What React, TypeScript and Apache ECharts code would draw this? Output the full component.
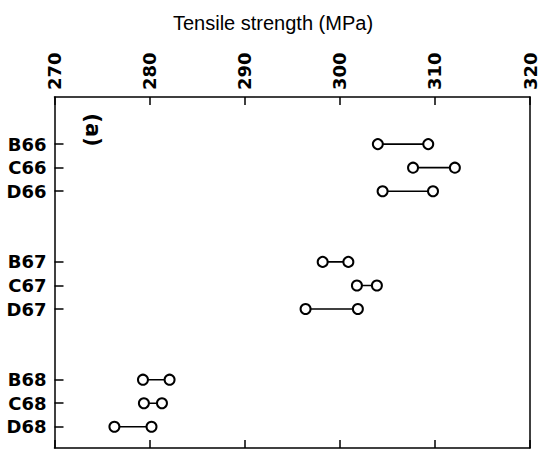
import React, { useEffect, useRef } from "react";
import * as echarts from "echarts";

// Specimen rows and their slot positions on the vertical axis (gaps between groups)
const specimens = ["B66", "C66", "D66", "B67", "C67", "D67", "B68", "C68", "D68"];
const slots = [0, 1, 2, 5, 6, 7, 10, 11, 12];
// Lower and upper tensile strength readings (MPa)
const lowValues = [304.0, 307.7, 304.5, 298.2, 301.8, 296.4, 279.3, 279.4, 276.3];
const highValues = [309.3, 312.1, 309.8, 300.9, 303.9, 301.9, 282.1, 281.3, 280.2];
// Strength scale ticks
const strengthTicks = [270, 280, 290, 300, 310, 320];

const AXIS_FONT = "DejaVu Sans";

export default function App() {
  const ref = useRef<HTMLDivElement>(null);

  useEffect(() => {
    if (!ref.current) return;
    const chart = echarts.init(ref.current, null, { renderer: "svg" });

    const slotName = (v: number) => {
      const i = slots.indexOf(Math.round(v));
      return i >= 0 ? specimens[i] : "";
    };

    const series = specimens.map((name, i) => ({
      name,
      type: "line",
      xAxisIndex: 0,
      yAxisIndex: 0,
      data: [
        [lowValues[i], slots[i]],
        [highValues[i], slots[i]],
      ],
      symbol: "circle",
      symbolSize: 10,
      itemStyle: { color: "#fff", borderColor: "#000", borderWidth: 2 },
      lineStyle: { color: "#000", width: 1.6 },
      silent: true,
      z: 3,
    }));

    const frameLine = { show: true, onZero: false, lineStyle: { color: "#000", width: 1.5 } };
    const tickStyle = { color: "#000", width: 1.5 };

    chart.setOption({
      animation: false,
      backgroundColor: "#fff",
      grid: { left: 54.5, right: 13, top: 97, bottom: 2, containLabel: false },
      xAxis: [
        {
          type: "value",
          position: "top",
          min: strengthTicks[0],
          max: strengthTicks[strengthTicks.length - 1],
          interval: 10,
          axisLine: frameLine,
          axisTick: { show: true, inside: true, length: 8, lineStyle: tickStyle },
          axisLabel: {
            rotate: -90,
            margin: 7,
            color: "#000",
            fontFamily: AXIS_FONT,
            fontWeight: "bold",
            fontSize: 18,
          },
          splitLine: { show: false },
        },
        {
          type: "value",
          position: "bottom",
          min: strengthTicks[0],
          max: strengthTicks[strengthTicks.length - 1],
          interval: 10,
          axisLine: frameLine,
          axisTick: { show: true, inside: true, length: 8, lineStyle: tickStyle },
          axisLabel: { show: false },
          splitLine: { show: false },
        },
      ],
      yAxis: [
        {
          type: "value",
          inverse: true,
          min: -2,
          max: 12.9,
          position: "left",
          axisLine: frameLine,
          axisTick: {
            show: true,
            inside: true,
            length: 9,
            customValues: slots,
            lineStyle: tickStyle,
          },
          axisLabel: {
            customValues: slots,
            formatter: (v: number) => slotName(v),
            margin: 8,
            color: "#000",
            fontFamily: AXIS_FONT,
            fontWeight: "bold",
            fontSize: 18,
          },
          splitLine: { show: false },
        },
        {
          type: "value",
          inverse: true,
          min: -2,
          max: 12.9,
          position: "right",
          axisLine: frameLine,
          axisTick: { show: false },
          axisLabel: { show: false },
          splitLine: { show: false },
        },
      ],
      graphic: [
        {
          type: "text",
          x: 273,
          y: 23,
          style: {
            text: "Tensile strength (MPa)",
            fill: "#000",
            font: "20px 'Liberation Sans'",
            textAlign: "center",
            textVerticalAlign: "middle",
          },
        },
        {
          type: "text",
          x: 93,
          y: 130,
          rotation: -Math.PI / 2,
          style: {
            text: "(a)",
            fill: "#000",
            font: `bold 21px '${AXIS_FONT}'`,
            textAlign: "center",
            textVerticalAlign: "middle",
          },
        },
      ],
      series,
    });

    return () => chart.dispose();
  }, []);

  return (
    <div
      ref={ref}
      style={{ position: "fixed", left: 0, top: 0, width: 543, height: 450 }}
    />
  );
}
